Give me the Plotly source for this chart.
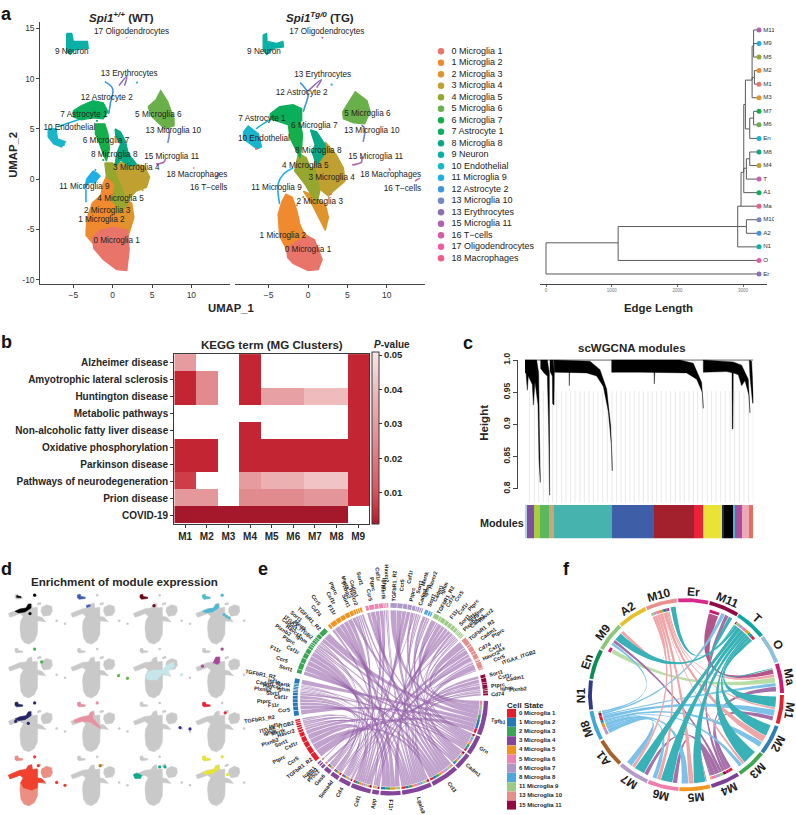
import math
import numpy as np
import plotly.graph_objects as go

W, H = 796, 815
FONT = "Liberation Sans, Arial, sans-serif"
INK = "#262626"

# ---------- panel a: UMAP clusters, outlines (UMAP units) ----------
cluster_names = ["0 Microglia 1", "1 Microglia 2", "2 Microglia 3", "3 Microglia 4", "4 Microglia 5",
                 "5 Microglia 6", "6 Microglia 7", "7 Astrocyte 1", "8 Microglia 8", "9 Neuron",
                 "10 Endothelial", "11 Microglia 9", "12 Astrocyte 2", "13 Microglia 10", "13 Erythrocytes",
                 "15 Microglia 11", "16 T\u2212cells", "17 Oligodendrocytes", "18 Macrophages"]
cluster_colors = ["#E8746A", "#F08A2E", "#DF952B", "#BFA030", "#97A62E", "#6AB04A", "#14AE4B", "#0BAE5B",
                  "#06A983", "#0AB0A5", "#18B5CB", "#1FAEE6", "#3F96DC", "#7388C7", "#8E6EB5", "#AE63AE",
                  "#D05FA5", "#EC5CA0", "#EF5D88"]

wt_blobs = {
    1: [(-3.4,-5.6),(-3.3,-4),(-2.6,-2.4),(-1.5,-1.6),(-1.2,-0.4),(-0.6,0.6),(0.5,0.6),(1,-0.5),(1.4,-1.8),(2.4,-2.4),(2.6,-4),(2,-5.6),(0,-5.2),(-1.6,-5.4),(-2.5,-6.4)],
    2: [(0.4,-2.7),(1.4,-2.2),(2.4,-2.4),(2.7,-3.8),(2.2,-5),(1.6,-5.2),(0.8,-4.2)],
    0: [(-2.6,-5.8),(-1.6,-5.1),(0,-4.8),(1.9,-5.1),(2.1,-7),(1.8,-9.1),(0.5,-9),(-1.2,-8),(-2.4,-6.9)],
    3: [(-0.3,1.2),(0.5,1.7),(2,1.6),(3,1.5),(4,1.3),(4.7,0.2),(4.3,-0.8),(3,-1.2),(2,-2),(1.2,-1.4),(0.5,0.1)],
    4: [(-1,1.6),(0,1.6),(0.5,0.3),(1.2,-1),(1.9,-2.5),(1,-3.2),(0,-2.2),(0.3,-0.5),(-0.8,0.3)],
    8: [(0.3,5),(1,4.7),(1.6,3.8),(2,2.5),(3,1.5),(2.2,1.3),(1,1.9),(0.3,1.3),(0.5,2.5),(1,3.5),(0.4,4.3)],
    6: [(-2.2,5.5),(-1,5.5),(-0.6,4.5),(-0.4,3),(-0.8,1.8),(-1.2,2.5),(-1.8,3.8),(-2.2,4.5)],
    7: [(-5,6.8),(-4,7.3),(-2.5,7.8),(-1.2,7.6),(-0.6,6.7),(-1.2,6),(-2.5,6.1),(-4,5.9),(-5,6.2)],
    5: [(4.5,7.2),(5.5,7.9),(6.1,8.8),(7,7.7),(7.8,6),(7.8,5.3),(6.6,5),(5,6.2)],
    9: [(-5.85,14.5),(-5.2,14.5),(-5,13.7),(-3.2,13.7),(-3.1,13),(-4.8,12.9),(-5.4,12.4),(-5.85,12.7)],
    10: [(-8.2,5),(-7.2,5),(-7,4),(-6,3.7),(-6.5,3.2),(-7.5,3.5),(-8.2,4.2)],
    11: [(-3.6,-1),(-3.3,0),(-2.5,0.8),(-2,0.6),(-1.6,0.3),(-2.3,-0.4),(-3,-0.3)],
}
wt_strands = {
    10: [(-7,5.2),(-5.5,5.6),(-4,6)],
    11: [(-3.4,-2.3),(-3.4,-1)],
    12: [(-1,9.7),(0,9),(-0.3,7.5),(-0.5,6.5)],
    13: [(7,5.4),(7.2,4.5),(7,3.6)],
    14: [(0.8,9.3),(1.8,10.2),(1.5,9.3)],
    15: [(5.5,1.5),(6.5,1.7),(6.7,2)],
    16: [(13.1,0.2),(13.6,0.6)],
    17: [(1.75,14.1),(1.85,14.05)],
    18: [(10.25,1.15),(10.35,1.05)],
}
wt_label_xy = [(0.5,-6.14),(-1.44,-4.05),(-0.7,-3.17),(3,1.08),(1,-2),(5.8,6.34),(-0.85,3.8),(-3.65,6.34),(0.2,2.45),
               (-5.2,12.7),(-5.5,5.13),(-3.6,-0.82),(-0.75,8.07),(7.7,4.8),(2.1,10.45),(7.5,2.2),(12.2,-0.88),(2.4,14.67),(10.7,0.4)]
wt_strays = [(10,3.1,9.6),(10,-6.2,3.4),(7,-2,5.8),(11,-2.2,0.9),(3,3.8,-1.1),(6,-1.2,1.9)]

tg_blobs = {
    1: [(-3.3,-2.2),(-2.8,-1.5),(-2,-1.8),(-1.4,-3.2),(-1,-4.6),(-0.5,-5.4),(0,-5.7),(-1.4,-6.2),(-2.7,-7),(-3.6,-5.7),(-3.8,-3.5)],
    2: [(-0.6,-1.2),(0.3,-1.5),(2.2,-2.5),(2.6,-3.8),(2.2,-5.1),(1.3,-3.8),(0.5,-2.5)],
    0: [(-2.7,-6.9),(-1.4,-6.2),(0,-5.7),(0.8,-6),(1.8,-8),(1.3,-9),(0,-9.1),(-1.9,-8.4),(-2.6,-7.8)],
    3: [(2.2,3.7),(3.6,2.4),(4.5,1.1),(4.7,-0.2),(3.2,-1.2),(2.6,-1.7),(1.5,-1),(0.5,0.5),(0.9,1.8),(2,2.4)],
    4: [(-1.2,2.6),(-0.2,2.1),(0.3,1.1),(0.9,1.1),(1.5,-1.2),(1.1,-2.5),(-0.4,-0.5),(-1.7,0.8)],
    8: [(0.3,4.9),(1.1,4.7),(2.2,3.4),(2,2.4),(1.1,1.4),(0.5,2.7),(0.9,3.4)],
    6: [(-2.5,5.4),(-1,5.8),(-0.7,4.4),(-0.8,3.2),(-1,2.1),(-1.7,3.1),(-2.3,4.1)],
    7: [(-4.8,6.5),(-3.6,7.2),(-1.9,7.4),(-0.8,7),(-0.8,5.8),(-2.5,5.4),(-4,5.8),(-4.8,6)],
    5: [(4.4,6.7),(6,8.7),(7.5,7.8),(7.9,6.7),(7.2,5.5),(5.8,5.6),(4.5,6)],
    9: [(-5.7,14.35),(-5.25,14.5),(-5.2,13.7),(-4,13.5),(-3.2,13.7),(-3.1,13.15),(-4.4,13),(-5.25,12.4),(-5.7,12.9)],
    10: [(-8.2,4.7),(-7.6,5.3),(-6.3,4.5),(-5.9,3.2),(-6.5,3),(-7.8,3.7),(-8.2,4)],
}
tg_strands = {
    10: [(-6.6,5),(-5.5,5.6),(-4.5,6)],
    11: [(-3.6,-2.5),(-3.8,-0.5),(-3.1,0.5),(-1.9,1.1)],
    12: [(-1,9.6),(0,8.5),(-0.4,7.2),(-0.6,6.7)],
    13: [(6.8,5.4),(7.2,5),(7,3.7)],
    14: [(0.05,8.8),(1.7,9.9),(1.1,9.1)],
    15: [(5.6,1.4),(6.8,1.7),(6.8,2.2)],
    16: [(13.6,-0.2),(14.2,0.1)],
    17: [(1.75,14.15),(1.9,14)],
    18: [(10.3,1.1),(10.45,0.85)],
}
tg_label_xy = [(0,-7.1),(-3.2,-5.7),(1.5,-2.25),(3,0.13),(-0.34,1.34),(7.54,6.47),(0.8,5.33),(-5.85,5.95),(1.3,2.8),
               (-5.6,12.7),(-5.6,3.95),(-4,-0.85),(-0.8,8.6),(8.1,4.77),(1.86,10.36),(8.6,2.2),(12,-0.95),(2.4,14.67),(10.5,0.4)]
tg_strays = [(10,3,9.4),(0,-6.6,3),(0,2.9,-1.5),(4,-0.6,-1.8),(4,0.4,-1.2),(1,-1.4,-2.6),(2,1.4,-2.6)]

# ---------- panel a: tree ----------
tree_names = ["root","n1","n2","n3","n4","n5","n6","n7","n8","n9","n10","n11","n12","n13",
              "M11","M9","M5","M2","M1","M3","M7","M6","En","M8","M4","T","A1","Ma","M10","A2","N1","O","Er"]
tree_parent = [None,"root","n1","n2","n2","n4","n5","n5","n7","n6","n9","n9","n6","n12",
               "n11","n11","n11","n10","n10","n9","n13","n13","n12","n8","n8","n7","n5","n4","n3","n3","n2","n1","root"]
tree_len = [0,1098,2918,3050,2969,3010,3035,3050,3101,3137,3172,3160,3101,3160,
            3242,3242,3242,3242,3242,3242,3242,3242,3242,3242,3242,3242,3242,3242,3242,3242,3242,3242,3242]
tree_row = [15.7,15.7,14.5,14.5,13,10.5,5.5,10.2,9.5,3.7,3.5,1.2,7.3,6.5,
            0,1,2,3,4,5,6,7,8,9,10,11,12,13,14,15,16,17,18]
tip_colors = dict(M11="#AE63AE", M9="#1FAEE6", M5="#97A62E", M2="#F08A2E", M1="#E8746A", M3="#DF952B", M7="#14AE4B",
                  M6="#6AB04A", En="#18B5CB", M8="#06A983", M4="#BFA030", T="#D05FA5", A1="#0BAE5B", Ma="#EF5D88",
                  M10="#7388C7", A2="#3F96DC", N1="#0AB0A5", O="#EC5CA0", Er="#8E6EB5")
tree_ticks = [0, 1000, 2000, 3000]

# ---------- panel b ----------
kegg_terms = ["Alzheimer disease", "Amyotrophic lateral sclerosis", "Huntington disease", "Metabolic pathways",
              "Non-alcoholic fatty liver disease", "Oxidative phosphorylation", "Parkinson disease",
              "Pathways of neurodegeneration", "Prion disease", "COVID-19"]
mg_clusters = ["M1", "M2", "M3", "M4", "M5", "M6", "M7", "M8", "M9"]
N = None
kegg_p = [[.030, N, N, .003, N, N, N, N, .003],
          [.003, .025, N, .003, N, N, N, N, .003],
          [.003, .025, N, .003, .032, .032, .040, .040, .003],
          [N, N, N, N, N, N, N, N, .003],
          [N, N, N, .003, N, N, N, N, .003],
          [.003, .003, N, .003, .003, .003, .003, .003, .003],
          [.003, .003, N, .003, .003, .003, .003, .003, .003],
          [.007, N, N, .030, .037, .037, .042, .042, .003],
          [.029, .029, N, .025, .025, .025, .028, .028, .003],
          [.001, .001, .001, .001, .001, .001, .001, .001, N]]
p_ticks = [.01, .02, .03, .04, .05]

# ---------- panel c: dendrogram envelopes (gene rank, height) ----------
dendro_blocks = [
    [(0,1),(35,1),(41,.98),(41,.949),(43,.898),(46,.81),(42,.847),(39,.93),(30,.966),(25,.93),(22,.962),(10,.975),(7,.953),(3,.98),(0,.98)],
    [(47,1),(67,1),(73,.98),(73,.898),(74,.79),(71,.898),(67,.975),(57,.98),(47,.987)],
    [(75,1),(85,1),(88,.98),(87,.93),(83,.932),(82,.975),(75,.982)],
    [(87,1),(195,.998),(225,.985),(245,.955),(257,.898),(262,.828),(259,.87),(250,.92),(235,.959),(215,.975),(185,.98),(88,.981)],
    [(260,1),(465,1),(505,.995),(530,.965),(535,.925),(532,.95),(515,.97),(485,.98),(345,.981),(260,.981)],
    [(535,1),(625,.997),(650,.992),(670,.97),(675,.918),(672,.945),(660,.968),(650,.96),(640,.977),(625,.98),(605,.982),(535,.981)],
    [(621,.995),(625,.995),(624,.893),(622,.893)],
    [(673,1),(680,.998),(686,.933),(683,.933),(675,.975)],
    [(132,.99),(134,.99),(133,.96)],
    [(387,.99),(390,.99),(388,.963)],
]
dendro_drops = [13,28,41,55,70,83,95,110,123,137,150,165,178,192,205,219,233,247,261,275,288,301,315,328,342,355,
                369,382,395,409,423,437,451,465,478,492,505,518,532,547,560,573,587,601,615,629,643,657,671,685]
module_widths = [7,21,17,28,14,174,127,119,28,57,6,25,8,20,22,12]
module_colors = ["#B5D5E5","#7E4FA0","#A8CB3F","#5CB85C","#C9A57A","#46B3AE","#3E5FA8","#A3212C","#EC2238",
                 "#E8E334","#1F2A6B","#000000","#3FB6D3","#A94D9E","#EBA9B5","#E46E5F"]

# ---------- panel d: silhouette and highlighted regions (panel-local units) ----------
sil_main = [(0,62),(15,55),(35,47),(53,45),(60,33),(70,30),(72,45),(87,43),(87,70),(100,73),(110,83),(113,87),(88,84),
            (87,100),(87,125),(78,145),(62,155),(47,150),(38,135),(35,105),(37,85),(45,70),(35,62),(15,70),(5,73)]
sil_m6 = [(100,43),(115,35),(130,40),(132,55),(125,67),(105,70),(98,55)]
sil_neuron = [(20,5),(28,3),(30,10),(43,12),(43,16),(30,16),(25,18),(20,14)]
sil_dots = [(79,6),(145,84),(170,93),(90,33),(95,31)]
reg_astro = [(20,55),(35,48),(53,45),(60,33),(68,33),(68,45),(50,57),(30,60)]
reg_pale = [(35,90),(45,75),(60,70),(87,70),(100,55),(120,45),(125,60),(105,72),(112,90),(88,80),(70,100),(45,100)]
reg_mag = [(52,48),(60,30),(72,30),(72,47),(65,53),(55,50)]
reg_pink = [(10,58),(30,50),(53,45),(60,33),(68,36),(65,52),(85,75),(90,85),(60,65),(35,62),(12,66)]
reg_endo = [(0,60),(10,55),(25,62),(22,72),(5,72)]
reg_blue = [(46,37),(58,34),(58,40),(48,44)]
reg_neuron_core = [(25,7),(38,10),(38,14),(25,13)]
# (row, col, colour, regions, dots)
d_panels = [
    (0,0,"#050505",[reg_neuron_core,reg_astro],[(79,6),(65,62)]),
    (0,1,"#3F5BAE",[sil_neuron,reg_blue],[]),
    (0,2,"#6E0A14",[sil_neuron],[(62,38)]),
    (0,3,"#4CBBD2",[sil_neuron,reg_astro],[(79,6),(85,65),(92,70),(100,75)]),
    (1,0,"#42B648",[],[(79,6),(100,45)]),
    (1,1,"#63B946",[],[(143,87),(170,95)]),
    (1,2,"#C5E6EA",[reg_pale],[(145,84)]),
    (1,3,"#A9479B",[reg_mag],[(20,58),(79,6)]),
    (2,0,"#232467",[sil_neuron,reg_astro],[(79,6),(60,68),(22,62)]),
    (2,1,"#E8909F",[sil_neuron,reg_pink],[(79,6)]),
    (2,2,"#322A8E",[],[(140,81),(170,85)]),
    (2,3,"#EE2233",[sil_neuron],[(88,36)]),
    (3,0,"#EC8F82",[sil_neuron,sil_main,sil_m6],[(79,6),(90,33),(145,84),(170,93)]),
    (3,1,"#B5771F",[],[(88,33)]),
    (3,2,"#0BA98F",[reg_endo],[(79,37),(95,37)]),
    (3,3,"#E8E42F",[sil_neuron,reg_astro],[(79,6),(95,60)]),
]
reg_hot = [(0,62),(15,55),(35,47),(53,45),(60,33),(70,30),(72,45),(87,43),(87,70),(100,73),(110,83),(88,84),(87,100),(70,108),(45,100),(37,85),(45,70),(35,62),(15,70),(5,73)]

# ---------- panel e ----------
e_groups = ["0 Microglia 1","1 Microglia 2","2 Microglia 3","3 Microglia 4","4 Microglia 5","5 Microglia 6",
            "6 Microglia 7","8 Microglia 8","11 Microglia 9","13 Microglia 10","15 Microglia 11"]
e_group_colors = ["#E41E2D","#2479B8","#3BA655","#85459B","#F1941F","#EE83AF","#AE98C8","#4FA8DB","#9CCB85","#E68E8C","#95073F"]
e_senders = [
    ("#E41E2D",140,168,["TGFbR1_R2","Ccr5","Ptprc","Csf1r","Sort1","Plxnb2","Havcr2","Mertk","Ighm","ITGAX_ITGB2","Igf1r"]),
    ("#2479B8",170,193,["TGFbR1_R2","Ccr5","F11r","Ptprc","Csf1r","Sort1","Plxnb2","Ighm","Havcr2","Cadm1","Mertk","Igf1r","TGFbR1_R2"]),
    ("#3BA655",196,228,["Sort1","Ccr5","F11r","Csf1r","Ptprc","Plxnb2","Ighm","Havcr2","Cadm1","ITGAX_ITGB2","Mertk","Sort1","TGFbR1_R2"]),
    ("#F1941F",230,253,["Cd74","Ccr5","F11r","Csf1r","Ptprc","Sort1","Plxnb2","Mertk","Havcr2","Cadm1"]),
    ("#EE83AF",255,269,["Sort1","Ccr5","Ptprc","Csf1r","Mertk","Ighm","Havcr2"]),
    ("#AE98C8",270,290,["TGFbR1_R2","Ccr5","Csf1r","Ptprc","Sort1","Mertk","Cadm1","Ighm","Havcr2"]),
    ("#4FA8DB",291,296,["Sort1","Cadm1","Ighm"]),
    ("#9CCB85",297,319,["TGFbR1_R2","Cd74","Ccr5","F11r","Csf1r","Ptprc","Sort1","Igf1r","Ighm","Plxnb2","Cadm1","Havcr2"]),
    ("#E68E8C",320,342,["TGFbR1_R2","Cadm1","Ptprc","Cd74","Csf1r","Ax","Havcr2","Ccr5","ITGAX_ITGB2"]),
    ("#95073F",345,358,["Sort1","Csf1r","Cadm1","Ptprc","Ighm","Plxnb2","Cd74"]),
]
e_receptor_weight = {"TGFbR1_R2":3,"Ccr5":2.5,"F11r":2,"Csf1r":2,"Ptprc":2,"Sort1":1.6,"Plxnb2":1,"Cd74":1.2,
                     "Havcr2":.8,"Mertk":.8,"Ighm":.8,"Cadm1":1,"Igf1r":.7,"ITGAX_ITGB2":.6,"Ax":.5}
e_ligand_of = {"TGFbR1_R2":"Tgfb1","Sort1":"Grn","Cadm1":"Cadm1","Ccr5":"Ccl3","Havcr2":"Lgals9","Ighm":"Lgals9",
               "F11r":"F11r","Cd74":"App","Csf1r":"Csf1","Ptprc":"Cd4","Igf1r":"Cd4","Plxnb2":"Sema4d","Mertk":"Gas6",
               "Ax":"Pros1","ITGAX_ITGB2":"Icam1"}
e_ligands = [("Tgfb1",1,22),("Grn",23,35),("Cadm1",36,46),("Ccl3",47,64),("Lgals9",65,83),("F11r",84,96),("App",97,101),
             ("Csf1",102,114),("Cd4",115,122),("Sema4d",123,128),("Gas6",129,133),("Pros1",134,135.5),("Jam1",136,137),("Icam1",137.5,138.5)]

# ---------- panel f ----------
f_sectors = [("Er",265.4,283.3,"#D6298C"),("M11",284.2,302.3,"#8E0B45"),("T",302.9,321.7,"#0FA5A5"),("O",322.5,340.1,"#8FC1DD"),
             ("Ma",341,359,"#CD1A77"),("M1",0.2,17.7,"#E5202E"),("M2",19.2,37.5,"#2E7DB8"),("M3",38.2,56,"#3FA652"),
             ("M4",57.2,74.7,"#7E3F95"),("M5",75.5,93.9,"#F1961F"),("M6",94.5,113,"#F07DAE"),("M7",113.7,132.4,"#B49BC8"),
             ("A1",133.5,150.9,"#A8622A"),("M8",152,170,"#3FA9D6"),("N1",171,188.6,"#2F3B87"),("En",189.6,207.9,"#0E8E57"),
             ("M9",208.8,226.5,"#8CC878"),("A2",227.2,245.2,"#E5C02B"),("M10",245.8,264.5,"#E8908E")]
f_out_span = {"T":(304,320.5),"M10":(247,259),"M8":(153,169),"M4":(58.5,74),"M11":(285.5,292),"M9":(209.5,212.5)}
f_in_span = {"Ma":(342,358),"M1":(1,17),"M2":(20,36),"M3":(40,54),"M5":(76.5,93),"M6":(95.5,112),"M7":(115,131),
             "M9":(214,226),"M11":(293,301),"M10":(260,263.5)}
f_ribbon_colors = {"T":"#38B2B7","M10":"#EFA6A8","M8":"#7CC2E8","M4":"#A56FA8","M11":"#B4558A","M9":"#B9DDA6"}
f_ribbons = [("T","M1",2.4),("T","M2",2),("T","M3",1.5),("T","M5",2.5),("T","M6",3),("T","M7",3),("T","M9",2),("T","M11",.8),("T","Ma",.3),("T","M10",.4),
             ("M10","M1",.5),("M10","M2",1.2),("M10","M5",1.2),("M10","M6",1),("M10","M7",1),("M10","M9",.8),("M10","Ma",.5),("M10","M3",.3),
             ("M8","M11",.8),("M8","Ma",.6),("M8","M1",1.5),("M8","M2",1),("M8","M5",1.5),("M8","M6",1.2),("M8","M7",1.8),("M8","M9",.7),("M8","M3",.4),
             ("M4","M11",.8),("M4","Ma",.8),("M4","M1",1),("M4","M6",1.2),("M4","M7",1.2),("M4","M9",.8),("M4","M5",.3),
             ("M11","Ma",.8),("M9","Ma",.9)]

# ---------- figure scaffolding ----------
fig = go.Figure()
layout = dict(width=W, height=H, margin=dict(l=0, r=0, t=0, b=0), paper_bgcolor="white", plot_bgcolor="rgba(0,0,0,0)",
              showlegend=False, barmode="stack", bargap=0, hovermode=False, font=dict(family=FONT, color=INK))
annotations = []
_n = [0]


def axes(x0, x1, y0, y1, xr, yr, xopt=None, yopt=None):
    _n[0] += 1
    n = _n[0]
    sfx = "" if n == 1 else str(n)
    xd = dict(domain=[x0 / W, x1 / W], range=xr, anchor="y" + sfx, visible=False, fixedrange=True)
    yd = dict(domain=[1 - y1 / H, 1 - y0 / H], range=yr, anchor="x" + sfx, visible=False, fixedrange=True)
    xd.update(xopt or {})
    yd.update(yopt or {})
    layout["xaxis" + sfx] = xd
    layout["yaxis" + sfx] = yd
    return "x" + sfx, "y" + sfx


def note(text, x, y, size, bold=True, color=INK, angle=0, xanchor="center", xref="paper", yref="paper"):
    if xref == "paper":
        x, y = x / W, 1 - y / H
    annotations.append(dict(text=text, x=x, y=y, xref=xref, yref=yref, showarrow=False, xanchor=xanchor, yanchor="middle",
                            textangle=angle, font=dict(family=FONT, size=size, color=color, weight="bold" if bold else "normal"),
                            borderpad=0, align="center"))


def poly(pts, color, xa, ya, dx=0, dy=0, lw=0.5):
    xs = [p[0] + dx for p in pts] + [pts[0][0] + dx]
    ys = [p[1] + dy for p in pts] + [pts[0][1] + dy]
    fig.add_trace(go.Scatter(x=xs, y=ys, mode="lines", fill="toself", fillcolor=color,
                             line=dict(color=color, width=lw), xaxis=xa, yaxis=ya, hoverinfo="skip"))


for letter, lx, ly in [("a", 6, 7), ("b", 6, 340), ("c", 468, 341), ("d", 6, 570), ("e", 263, 570), ("f", 566, 570)]:
    note(letter, lx, ly, 18, color="#111")

# ---------- panel a ----------
PX_X, PX_Y = 7.87, 10.2
yr_a = [(174.67 - 281) / PX_Y, (174.67 - 15) / PX_Y]
axis_line = dict(visible=True, showline=True, linecolor="#444", linewidth=1.4, ticks="outside", ticklen=2.5, tickcolor="#444",
                 showgrid=False, zeroline=False, tickfont=dict(size=8.5, color="#333"))
for (x0, x1, zero, blobs, strands, labels, strays, with_y) in [
        (40, 230, 112.67, wt_blobs, wt_strands, wt_label_xy, wt_strays, True),
        (235, 425, 308, tg_blobs, tg_strands, tg_label_xy, tg_strays, False)]:
    xa, ya = axes(x0, x1, 15, 281, [(x0 - zero) / PX_X, (x1 - zero) / PX_X], yr_a,
                  dict(axis_line, tickvals=[-5, 0, 5, 10]),
                  dict(axis_line, tickvals=[-10, -5, 0, 5, 10, 15], ticktext=["-10", "-5", "0", "5", "10", "15"]) if with_y else {})
    for k, pts in strands.items():
        fig.add_trace(go.Scatter(x=[p[0] for p in pts], y=[p[1] for p in pts], mode="lines",
                                 line=dict(color=cluster_colors[k], width=1.6, shape="spline"),
                                 xaxis=xa, yaxis=ya, hoverinfo="skip"))
    for k, pts in blobs.items():
        poly(pts, cluster_colors[k], xa, ya, lw=1.3)
    fig.add_trace(go.Scatter(x=[s[1] for s in strays], y=[s[2] for s in strays], mode="markers",
                             marker=dict(size=2.2, color=[cluster_colors[s[0]] for s in strays]), xaxis=xa, yaxis=ya, hoverinfo="skip"))
    fig.add_trace(go.Scatter(x=[p[0] for p in labels], y=[p[1] for p in labels], text=cluster_names, mode="text",
                             textfont=dict(size=8.2, color="#222", family=FONT), cliponaxis=False,
                             xaxis=xa, yaxis=ya, hoverinfo="skip"))

note("<i>Spi1<sup>+/+</sup></i> (WT)", 121.5, 10.5, 11.5)
note("<i>Spi1<sup>Tg/0</sup></i> (TG)", 320, 10.5, 11.5)
note("UMAP_1", 231, 306, 11.3)
note("UMAP_2", 13, 150, 11.3, angle=-90)

# legend of panel a
rows = list(range(len(cluster_names)))
xa, ya = axes(436, 560, 35, 265, [0, 124], [(265 - 45) / 11.667, (35 - 45) / 11.667])
fig.add_trace(go.Scatter(x=[5] * 19, y=rows, mode="markers", marker=dict(size=6.5, color=cluster_colors), xaxis=xa, yaxis=ya, hoverinfo="skip"))
fig.add_trace(go.Scatter(x=[15.5] * 19, y=rows, text=cluster_names, mode="text", textposition="middle right",
                         textfont=dict(size=9, color="#222", family=FONT), cliponaxis=False, xaxis=xa, yaxis=ya, hoverinfo="skip"))

# tree
PX_T = 0.0657
tree_yr = [(281 - 23.3) / 13.76, (18 - 23.3) / 13.76]
xa, ya = axes(540, 767, 18, 281, [(540 - 546) / PX_T, (767 - 546) / PX_T], tree_yr,
              dict(visible=True, showline=True, linecolor="#444", linewidth=1, ticks="outside", ticklen=2, tickcolor="#666",
                   showgrid=False, zeroline=False, tickvals=tree_ticks, tickfont=dict(size=4.5, color="#777")))
idx = {n: i for i, n in enumerate(tree_names)}
tx, ty = [], []
for i, nm in enumerate(tree_names):
    par = tree_parent[i]
    if par is None:
        continue
    j = idx[par]
    tx += [tree_len[j], tree_len[j], tree_len[i], None]
    ty += [tree_row[j], tree_row[i], tree_row[i], None]
fig.add_trace(go.Scatter(x=tx, y=ty, mode="lines", line=dict(color="#5a5a5a", width=1), xaxis=xa, yaxis=ya, hoverinfo="skip", cliponaxis=False))
tips = [n for n in tree_names if n in tip_colors]
tip_rows = [tree_row[idx[n]] for n in tips]
tip_x = [tree_len[idx[n]] for n in tips]
xa, ya = axes(540, 774, 18, 281, [(540 - 546) / PX_T, (774 - 546) / PX_T], tree_yr)
fig.add_trace(go.Scatter(x=tip_x, y=tip_rows, text=tips, mode="markers+text", textposition="middle right",
                         marker=dict(size=5, color=[tip_colors[n] for n in tips]),
                         textfont=dict(size=6.2, color="#333", family=FONT), xaxis=xa, yaxis=ya, hoverinfo="skip"))
note("Edge Length", 658, 306, 11.4)

# ---------- panel b ----------
frame = dict(visible=True, showline=True, mirror=True, linecolor="#3a3a3a", linewidth=1.2, ticks="outside", ticklen=3, tickcolor="#333",
             showgrid=False, zeroline=False, tickfont=dict(size=10, color=INK, weight="bold"))
xa, ya = axes(174.3, 369, 352.3, 524.3, [-.5, 8.5], [9.5, -.5],
              dict(frame, tickvals=list(range(9)), ticktext=mg_clusters, tickfont=dict(size=10, color=INK, weight="bold")),
              dict(frame, tickvals=list(range(10)), ticktext=kegg_terms))
fig.add_trace(go.Heatmap(z=kegg_p, zmin=.001, zmax=.051, xaxis=xa, yaxis=ya, hoverinfo="skip",
                         colorscale=[[0, "#A5172A"], [.04, "#C42532"], [.2, "#D9565E"], [.5, "#E38F93"], [.72, "#EBB0B2"], [1, "#F9E7E7"]],
                         colorbar=dict(x=371.7 / W, xanchor="left", xpad=0, ypad=0, thickness=7.3, thicknessmode="pixels",
                                       len=172, lenmode="pixels", y=1 - 524.3 / H, yanchor="bottom", outlinecolor="#3a3a3a", outlinewidth=1,
                                       tickvals=p_ticks, tickformat=".2f", ticks="outside", ticklen=3, tickcolor="#333",
                                       tickfont=dict(size=9.5, color=INK, weight="bold", family=FONT))))
note("KEGG term (MG Clusters)", 272, 343, 11.6)
note("<i>P</i>-value", 392, 342.5, 10)

# ---------- panel c ----------
xa, ya = axes(518.3, 519.3, 358.3, 489, [0, 1], [.8, 1],
              None, dict(visible=True, showline=True, linecolor="#444", linewidth=1, ticks="outside", ticklen=4, tickcolor="#444",
                         showgrid=False, zeroline=False, tickvals=[.8, .85, .9, .95, 1], ticktext=["0.8", "0.85", "0.9", "0.95", "1.0"],
                         tickangle=-90, tickfont=dict(size=8.5, color=INK, weight="bold")))
fig.add_trace(go.Scatter(x=[0], y=[.9], mode="markers", marker=dict(size=1, opacity=0), xaxis=xa, yaxis=ya, hoverinfo="skip"))
xa, ya = axes(525, 753.3, 357.5, 503, [0, 685], [.7786, 1.0012])
dx_, dy_ = [], []
for d in dendro_drops:
    dx_ += [d, d, None]
    dy_ += [.951, .7786, None]
fig.add_trace(go.Scatter(x=dx_, y=dy_, mode="lines", line=dict(color="#b5b5b5", width=.6, dash="1px,1px"), xaxis=xa, yaxis=ya, hoverinfo="skip"))
fig.add_trace(go.Scatter(x=[0, 685], y=[1, 1], mode="lines", line=dict(color="#000", width=.7), xaxis=xa, yaxis=ya, hoverinfo="skip"))
for blk in dendro_blocks:
    poly(blk, "#000000", xa, ya, lw=.4)
xa, ya = axes(525, 753.3, 505.3, 539.3, [0, 685], [-.5, .5])
for w_, c_ in zip(module_widths, module_colors):
    fig.add_trace(go.Bar(x=[w_], y=[0], orientation="h", marker=dict(color=c_, line=dict(width=0)), xaxis=xa, yaxis=ya, hoverinfo="skip"))
note("scWGCNA modules", 631.5, 346.5, 11.5)
note("Height", 484, 422, 11.5, angle=-90)
note("Modules", 525, 524, 10.8, xanchor="right")

# ---------- panel d ----------
GREY = "#C9C9C9"
xa, ya = axes(0, 250, 550, 815, [0, 750], [795, 0])
for r in range(4):
    for c in range(4):
        ox, oy = 25 + c * 187.5, 135 + r * 164
        for pts in (sil_main, sil_m6, sil_neuron):
            poly(pts, GREY, xa, ya, ox, oy)
        fig.add_trace(go.Scatter(x=[p[0] + ox for p in sil_dots], y=[p[1] + oy for p in sil_dots], mode="markers",
                                 marker=dict(size=2.5, color=GREY), xaxis=xa, yaxis=ya, hoverinfo="skip"))
for r, c, col, regs, dots in d_panels:
    ox, oy = 25 + c * 187.5, 135 + r * 164
    for pts in regs:
        poly(pts, col, xa, ya, ox, oy)
    if r == 3 and c == 0:
        poly(reg_hot, "#F0402E", xa, ya, ox, oy)
    if dots:
        fig.add_trace(go.Scatter(x=[p[0] + ox for p in dots], y=[p[1] + oy for p in dots], mode="markers",
                                 marker=dict(size=3.2, color="#EE3B2E" if (r, c) == (3, 0) else col), xaxis=xa, yaxis=ya, hoverinfo="skip"))
note("Enrichment of module expression", 124, 583, 11.6)


# ---------- chord geometry ----------
def arc(a0, a1, r):
    t = np.radians(np.linspace(a0, a1, max(3, int(abs(a1 - a0) / 1.5) + 2)))
    return (r * np.cos(t)).tolist(), (-r * np.sin(t)).tolist()


def pol(a, r):
    return r * math.cos(math.radians(a)), -r * math.sin(math.radians(a))


def bez(p0, p2):
    t = np.linspace(0, 1, 26)
    return ((1 - t) ** 2 * p0[0] + t ** 2 * p2[0]).tolist(), ((1 - t) ** 2 * p0[1] + t ** 2 * p2[1]).tolist()


def ribbon(a0, a1, ra, b0, b1, rb, fill, xa, ya):
    x1, y1 = arc(a0, a1, ra)
    x2, y2 = bez(pol(a1, ra), pol(b0, rb))
    x3, y3 = arc(b0, b1, rb)
    x4, y4 = bez(pol(b1, rb), pol(a0, ra))
    fig.add_trace(go.Scatter(x=x1 + x2 + x3 + x4, y=y1 + y2 + y3 + y4, mode="lines", fill="toself", fillcolor=fill,
                             line=dict(width=0, color=fill), xaxis=xa, yaxis=ya, hoverinfo="skip"))


def band_trace(segs, color, xa, ya):
    xs, ys = [], []
    for a0, a1, r0, r1 in segs:
        x1, y1 = arc(a0, a1, r1)
        x2, y2 = arc(a1, a0, r0)
        xs += x1 + x2 + [x1[0], None]
        ys += y1 + y2 + [y1[0], None]
    fig.add_trace(go.Scatter(x=xs, y=ys, mode="lines", fill="toself", fillcolor=color, line=dict(width=0, color=color),
                             xaxis=xa, yaxis=ya, hoverinfo="skip"))


def radial_label(text, a, r_start, size, xa=None, ya=None, char=0.03):
    a = a % 360
    right = math.cos(math.radians(a)) >= 0
    ang = a if right else a - 180
    ang = (ang + 180) % 360 - 180
    r = r_start + len(text) * char / 2
    x, y = pol(a, r)
    note(text, x, y, size, angle=ang, color="#1d1d1d", xref=xa, yref=ya)


# ---------- panel e ----------
R_E = 97.7
cx, cy = 390.5, 702.6
xa, ya = axes(cx - 1.36 * R_E, cx + 1.36 * R_E, 565, 815, [-1.36, 1.36], [-(815 - cy) / R_E, (cy - 565) / R_E])
ticks = []
for color, a0, a1, recs in e_senders:
    wts = [e_receptor_weight[x] for x in recs]
    scale = (a1 - a0) / sum(wts)
    pos = a0
    for rec, w_ in zip(recs, wts):
        ticks.append(dict(color=color, rec=rec, a0=pos, a1=pos + w_ * scale - .35, lig=e_ligand_of[rec], w=w_))
        pos += w_ * scale
strips = {}
for name, a0, a1 in e_ligands:
    inc = [t for t in ticks if t["lig"] == name]
    if not inc:
        continue
    inc.sort(key=lambda t: -t["a0"])
    scale = (a1 - a0) / sum(t["w"] for t in inc)
    pos = a0
    for t in inc:
        t["b0"], t["b1"] = pos, pos + t["w"] * scale
        pos = t["b1"]
        strips.setdefault(t["color"], []).append((t["b0"], t["b1"], .915, .94))
for t in ticks:
    if "b0" in t:
        ribbon(t["a0"], t["a1"], .925, t["b0"], t["b1"], .91, "rgba(150,100,170,0.6)", xa, ya)
band_trace([(a, b, .955, 1.0) for _, a, b in e_ligands], "#85459B", xa, ya)
for color, segs in strips.items():
    band_trace(segs, color, xa, ya)
for color, a0, a1, recs in e_senders:
    band_trace([(t["a0"], t["a1"], .95, 1.0) for t in ticks if t["color"] == color and a0 <= t["a0"] <= a1], color, xa, ya)
for i, t in enumerate(ticks):
    radial_label(t["rec"], (t["a0"] + t["a1"]) / 2, 1.04 + (i % 3) * .09, 5.4, xa=xa, ya=ya)
for name, a0, a1 in e_ligands:
    radial_label(name, (a0 + a1) / 2, 1.05, 5.4, xa=xa, ya=ya)

# legend of panel e
rows = list(range(len(e_groups)))
xa, ya = axes(505, 560, 712, 815, [0, 55], [(815 - 716.7) / 9.33, (712 - 716.7) / 9.33])
fig.add_trace(go.Scatter(x=[6.5] * 11, y=rows, mode="markers", marker=dict(size=9, symbol="square", color=e_group_colors), xaxis=xa, yaxis=ya, hoverinfo="skip"))
fig.add_trace(go.Scatter(x=[14] * 11, y=rows, text=["<b>%s</b>" % g for g in e_groups], mode="text", textposition="middle right",
                         textfont=dict(size=6, color=INK, family=FONT), cliponaxis=False, xaxis=xa, yaxis=ya, hoverinfo="skip"))
note("Cell State", 525, 708.5, 8)

# ---------- panel f ----------
R_F = 98
cx, cy, box = 686, 698, 1.12
xa, ya = axes(cx - box * R_F, cx + box * R_F, cy - box * R_F, cy + box * R_F, [-box, box], [-box, box])
sector_mid = {n: ((a + b) / 2) for n, a, b, _ in f_sectors}
sector_col = {n: c for n, _, _, c in f_sectors}
rib = [dict(src=s, dst=d, w=w_) for s, d, w_ in f_ribbons]
for s, (a0, a1) in f_out_span.items():
    out = [q for q in rib if q["src"] == s]
    out.sort(key=lambda q: -((sector_mid[q["dst"]] - (a0 + a1) / 2) % 360))
    scale = (a1 - a0) / sum(q["w"] for q in out)
    pos = a0
    for q in out:
        q["a0"], q["a1"] = pos, pos + q["w"] * scale
        pos = q["a1"]
for d, (b0, b1) in f_in_span.items():
    inc = [q for q in rib if q["dst"] == d]
    inc.sort(key=lambda q: -((q["a0"] - (b0 + b1) / 2) % 360))
    scale = (b1 - b0) / sum(q["w"] for q in inc)
    pos = b0
    for q in inc:
        q["b0"], q["b1"] = pos, pos + q["w"] * scale
        pos = q["b1"]
for s in ["M9", "M11", "M4", "M8", "M10", "T"]:
    for q in rib:
        if q["src"] == s:
            ribbon(q["a0"], q["a1"], .875, q["b0"] + .15, q["b1"] - .15, .92, f_ribbon_colors[s], xa, ya)
for q in rib:
    band_trace([(q["a0"], q["a1"], .885, .915)], sector_col[q["dst"]], xa, ya)
for n, a, b, c in f_sectors:
    band_trace([(a, b, .96, 1.0)], c, xa, ya)
    mid = (a + b) / 2
    x, y = pol(mid, 1.07)
    ang = (mid + 90 + 180) % 360 - 180
    note(n, x, y, 12, angle=ang, color="#1d1d1d", xref=xa, yref=ya)

layout["annotations"] = annotations
fig.update_layout(**layout)
fig.write_html("out.html", config=dict(displayModeBar=False),
               post_script="document.body.style.margin='0';document.body.style.overflow='hidden';")
